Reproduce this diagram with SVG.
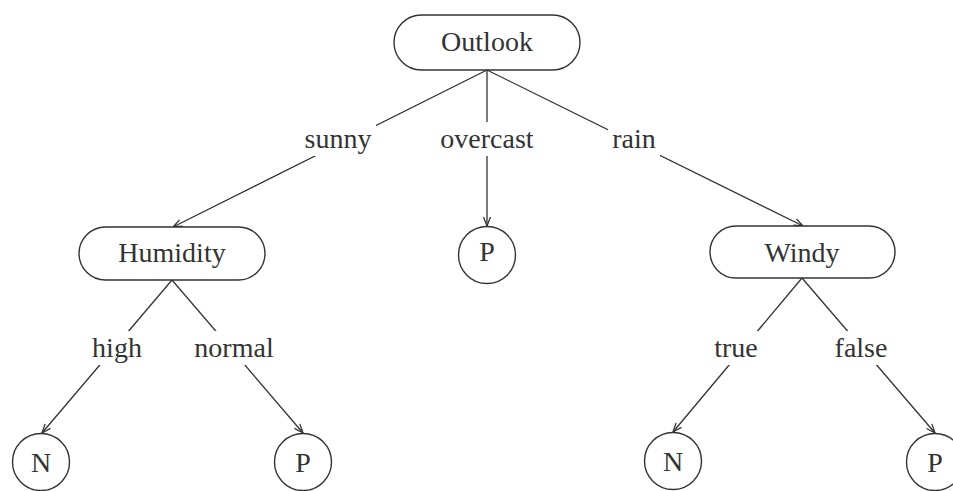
<svg xmlns="http://www.w3.org/2000/svg" width="953" height="491" viewBox="0 0 953 491">
<style>
.n{fill:#fff;stroke:#333;stroke-width:1.4}
.t{font-family:"Liberation Serif","Times New Roman",serif;font-size:28px;fill:#333;text-anchor:middle}
.e{stroke:#333;stroke-width:1.3;fill:none;marker-end:url(#ah)}
.lb{fill:#fff}
</style>
<defs>
<marker id="ah" viewBox="0 0 10 10" refX="10" refY="5" markerWidth="10" markerHeight="10" markerUnits="userSpaceOnUse" orient="auto">
<path d="M1,1.5 L10,5 L1,8.5" fill="none" stroke="#333" stroke-width="1.3"/>
</marker>
</defs>
<rect width="953" height="491" fill="#fff"/>
<g id="connectors">
<line class="e" x1="487" y1="70" x2="173" y2="227"/>
<line class="e" x1="487" y1="70" x2="487" y2="226"/>
<line class="e" x1="487" y1="70" x2="803" y2="226"/>
<line class="e" x1="172" y1="280" x2="42" y2="433"/>
<line class="e" x1="172" y1="280" x2="303" y2="433"/>
<line class="e" x1="802" y1="278" x2="673" y2="432"/>
<line class="e" x1="802" y1="278" x2="935" y2="433"/>
<rect class="lb" x="300" y="122" width="76" height="34"/>
<rect class="lb" x="436" y="122" width="102" height="34"/>
<rect class="lb" x="608" y="122" width="52" height="34"/>
<rect class="lb" x="89" y="331" width="56" height="34"/>
<rect class="lb" x="189" y="331" width="90" height="34"/>
<rect class="lb" x="711" y="331" width="50" height="34"/>
<rect class="lb" x="831" y="331" width="60" height="34"/>
<text class="t" x="338" y="148">sunny</text>
<text class="t" x="487" y="148">overcast</text>
<text class="t" x="634" y="148">rain</text>
<text class="t" x="117" y="357">high</text>
<text class="t" x="234" y="357">normal</text>
<text class="t" x="736" y="357">true</text>
<text class="t" x="861" y="357">false</text>
</g>
<g id="outlook">
<rect class="n" x="394" y="15" width="186" height="55" rx="27.5"/>
<text class="t" x="487" y="51">Outlook</text>
</g>
<g id="humidity">
<rect class="n" x="79" y="227" width="186" height="53" rx="26.5"/>
<text class="t" x="172" y="262">Humidity</text>
</g>
<g id="windy">
<rect class="n" x="710" y="226" width="185" height="52" rx="26"/>
<text class="t" x="802" y="262">Windy</text>
</g>
<g id="p-overcast">
<circle class="n" cx="487" cy="255" r="28.5"/>
<text class="t" x="487" y="261">P</text>
</g>
<g id="n-high">
<circle class="n" cx="41" cy="462" r="28.5"/>
<text class="t" x="41" y="472">N</text>
</g>
<g id="p-normal">
<circle class="n" cx="303" cy="462" r="28.5"/>
<text class="t" x="303" y="472">P</text>
</g>
<g id="n-true">
<circle class="n" cx="673" cy="461" r="28.5"/>
<text class="t" x="673" y="471">N</text>
</g>
<g id="p-false">
<circle class="n" cx="935" cy="462" r="28.5"/>
<text class="t" x="935" y="472">P</text>
</g>
</svg>
